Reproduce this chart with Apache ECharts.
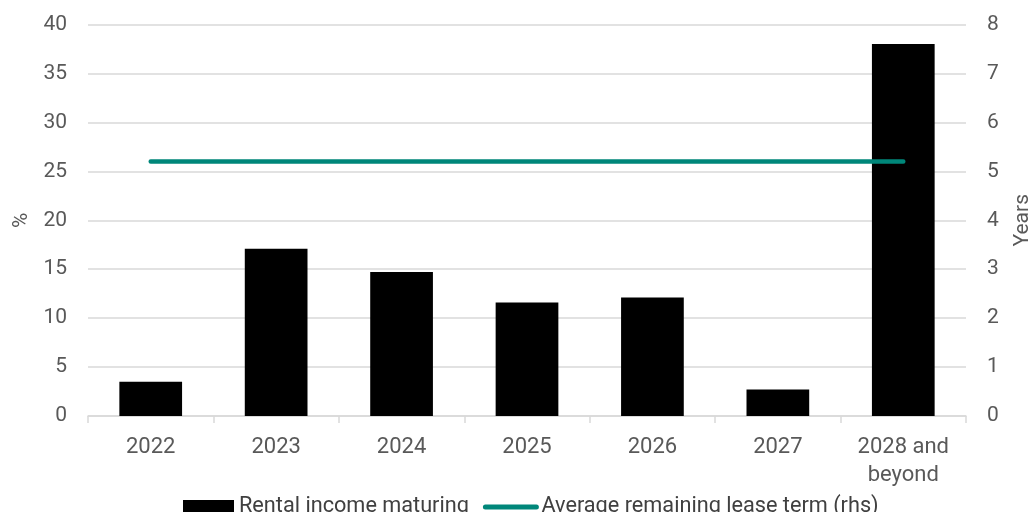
<!DOCTYPE html>
<html>
<head>
<meta charset="utf-8">
<script src="https://cdn.jsdelivr.net/npm/echarts@6/dist/echarts.min.js"></script>
<style>
  html, body { margin: 0; padding: 0; background: #fff; }
  #chart { width: 1030px; height: 512px; }
</style>
</head>
<body>
<div id="chart"></div>
<script>
// Lease expiry profile
const categories = ['2022', '2023', '2024', '2025', '2026', '2027', '2028 and\nbeyond'];
const rentalIncomeMaturing = [3.5, 17.1, 14.7, 11.6, 12.1, 2.7, 38.0];
const avgRemainingLeaseTerm = [5.2, 5.2, 5.2, 5.2, 5.2, 5.2, 5.2];
const leftTicks = { min: 0, max: 40, interval: 5 };
const rightTicks = { min: 0, max: 8, interval: 1 };

const FONT = 'Roboto';
const AXIS_TEXT = '#595959';
const GRID_LINE = '#d9d9d9';
const TEAL = '#00877a';

const chart = echarts.init(document.getElementById('chart'), null, { renderer: 'canvas' });

chart.setOption({
  animation: false,
  textStyle: { fontFamily: FONT },
  grid: { left: 88, right: 64, top: 24.5, bottom: 96, outerBoundsMode: 'none', containLabel: false },
  legend: {
    top: 491,
    left: 178,
    itemWidth: 51,
    itemHeight: 14,
    itemGap: 14,
    textStyle: { fontFamily: FONT, fontSize: 21.7, color: '#404040' },
    data: [
      { name: 'Rental income maturing', icon: 'rect' },
      {
        name: 'Average remaining lease term (rhs)',
        itemStyle: { color: 'rgba(0,0,0,0)', borderColor: 'rgba(0,0,0,0)', borderWidth: 0 },
        lineStyle: { color: TEAL, width: 5, cap: 'round' }
      }
    ]
  },
  xAxis: {
    type: 'category',
    data: categories,
    boundaryGap: true,
    axisLine: { lineStyle: { color: GRID_LINE, width: 1.5 } },
    axisTick: { show: true, length: 7, lineStyle: { color: GRID_LINE, width: 1.5 } },
    axisLabel: { color: AXIS_TEXT, fontSize: 22, margin: 17, lineHeight: 28, fontFamily: FONT }
  },
  yAxis: [
    {
      type: 'value',
      min: leftTicks.min, max: leftTicks.max, interval: leftTicks.interval,
      name: '%',
      nameLocation: 'middle',
      nameGap: 54,
      nameRotate: 90,
      nameTextStyle: { color: AXIS_TEXT, fontSize: 21, fontFamily: FONT },
      axisLine: { show: false },
      axisTick: { show: false },
      splitLine: { lineStyle: { color: GRID_LINE, width: 1.5 } },
      axisLabel: { color: AXIS_TEXT, fontSize: 21, margin: 21, fontFamily: FONT }
    },
    {
      type: 'value',
      min: rightTicks.min, max: rightTicks.max, interval: rightTicks.interval,
      name: 'Years',
      nameLocation: 'middle',
      nameGap: 46,
      nameRotate: 90,
      nameTextStyle: { color: AXIS_TEXT, fontSize: 21, fontFamily: FONT },
      axisLine: { show: false },
      axisTick: { show: false },
      splitLine: { show: false },
      axisLabel: { color: AXIS_TEXT, fontSize: 21, margin: 21, fontFamily: FONT }
    }
  ],
  series: [
    {
      name: 'Rental income maturing',
      type: 'bar',
      yAxisIndex: 0,
      data: rentalIncomeMaturing,
      barWidth: '50%',
      itemStyle: { color: '#000000' }
    },
    {
      name: 'Average remaining lease term (rhs)',
      type: 'line',
      yAxisIndex: 1,
      data: avgRemainingLeaseTerm,
      symbol: 'none',
      lineStyle: { color: TEAL, width: 4.5, cap: 'round' },
      itemStyle: { color: TEAL }
    }
  ]
});
</script>
</body>
</html>
